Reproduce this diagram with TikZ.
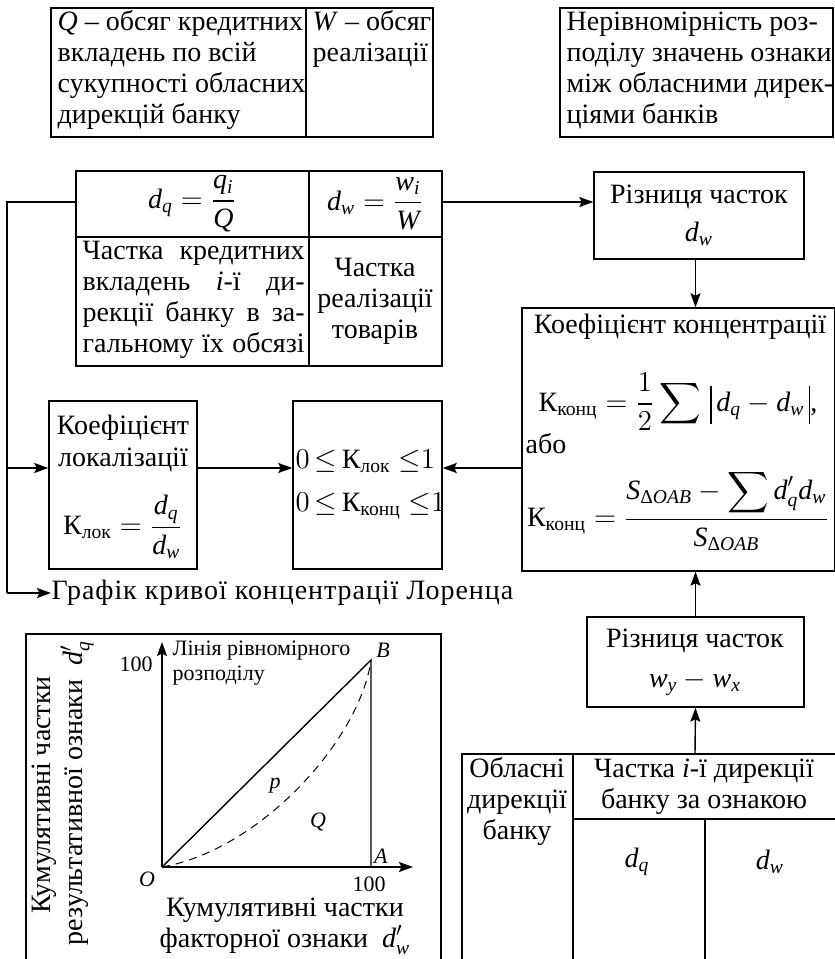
\documentclass[tikz,border=0pt]{standalone}
\usepackage{amsmath}
\usepackage{fontspec}
\setmainfont{Liberation Serif}[NFSSFamily=libser]
\newfontfamily\widefont{Liberation Serif}[LetterSpace=3.4]
\DeclareSymbolFont{letters}{TU}{libser}{m}{it}
\DeclareSymbolFont{operators}{TU}{libser}{m}{n}
\usetikzlibrary{arrows.meta,fit,calc}
\newcommand{\Kx}[1]{\text{К}_{\text{#1}}}
\newcommand{\Dl}{\text{Δ}}
\newcommand{\cm}{\mathpunct{\text{,}}}
\newcommand{\vb}{\rule[-6.5pt]{0.55pt}{19pt}}
\begin{document}
\begin{tikzpicture}[x=0.5pt,y=-0.5pt,
  line width=0.7pt,
  frame/.style={draw, inner sep=0pt},
  txt/.style={inner sep=0pt, font=\fontsize{14}{15.5}\selectfont},
  sm/.style={inner sep=0pt, font=\fontsize{11}{12.5}\selectfont},
  arr/.style={-{Stealth[length=7pt,width=5pt,inset=1.2pt]}},
]
\useasboundingbox (0,0) rectangle (835,959);

% ---------- top boxes
\node[frame, fit={(51,8) (433,137)}] (topL) {};
\draw (306,8) -- (306,137);
\foreach \t [count=\i] in {{\textit{Q} – обсяг кредитних},{вкладень по всій},{сукупності обласних},{дирекцій банку}}
  \node[txt,anchor=base west] (qa\i) at (57,{30+31*(\i-1)}) {\t};
\foreach \t [count=\i] in {{\textit{W} – обсяг},{реалізації}}
  \node[txt,anchor=base west] (wa\i) at (312,{30+31*(\i-1)}) {\t};

\node[frame, fit={(560,8) (833,137)}] (topR) {};
\foreach \t [count=\i] in {{Нерівномірність роз-},{поділу значень ознаки},{між обласними дирек-},{ціями банків}}
  \node[txt,anchor=base west] (nr\i) at (566,{30+31*(\i-1)}) {\t};

% ---------- middle table
\node[frame, fit={(76,171) (442,366)}] (midT) {};
\draw (309,171) -- (309,366);
\draw (76,237) -- (442,237);
\node[txt] (fq) at (192,204) {$d_q=\dfrac{q_i}{Q}$};
\node[txt] (fw) at (375,204) {$d_w=\dfrac{w_i}{W}$};
\foreach \t [count=\i] in {{Частка кредитних},{вкладень \textit{i}-ї ди-},{рекції банку в за-},{гальному їх обсязі}}
  \node[txt,anchor=base west] (ck\i) at (82,{259+31*(\i-1)}) {\makebox[111pt][s]{\t}};
\foreach \t [count=\i] in {{Частка},{реалізації},{товарів}}
  \node[txt,anchor=base] (cr\i) at (375,{276+31*(\i-1)}) {\t};

% ---------- difference d_w
\node[frame, fit={(594,172) (804,259)}] (rizD) {};
\node[txt,anchor=base] (rizDt) at (699,203) {Різниця часток};
\node[txt] (rizDm) at (699,234) {$d_w$};

% ---------- concentration coefficient
\node[frame, fit={(522,308) (835,571)}] (koef) {};
\node[txt,anchor=base] (koeft) at (680,333) {Коефіцієнт концентрації};
\node[txt] (koeff1) at (678,402) {$\Kx{конц}=\dfrac{1}{2}\displaystyle\sum\,\vb\,d_q-d_w\,\vb\cm$};
\node[txt,anchor=base west] (abo) at (525,453) {або};
\node[txt] (koeff2) at (678,510) {$\Kx{конц}=\dfrac{S_{\Dl OAB}-\displaystyle\sum d'_q d_w}{S_{\Dl OAB}}$};

% ---------- localization
\node[frame, fit={(49,401) (197,569)}] (lok) {};
\node[txt,anchor=base] (lok1) at (123,434) {Коефіцієнт};
\node[txt,anchor=base] (lok2) at (123,466) {локалізації};
\node[txt] (lokf) at (123,527) {$\Kx{лок}=\dfrac{d_q}{d_w}$};

% ---------- inequalities
\node[frame, fit={(293,401) (442,569)}] (ineq) {};
\node[txt,anchor=west] (in1) at (295,461) {$0\,{\le}\,\Kx{лок}\;{\le}1$};
\node[txt,anchor=west] (in2) at (295,506) {$0\,{\le}\,\Kx{конц}\;{\le}1$};

% ---------- Lorenz caption
\node[txt,anchor=west] (graf) at (51,593) {\widefont Графік кривої концентрації Лоренца};

% ---------- difference w
\node[frame, fit={(587,617) (804,707)}] (rizW) {};
\node[txt,anchor=base] (rizWt) at (695,647) {Різниця часток};
\node[txt] (rizWm) at (695,683) {$w_y-w_x$};

% ---------- bottom-right table (open)
\coordinate (tabtop) at (695,754);
\draw (462,959) -- (462,754) -- (835,754);
\draw (573,754) -- (573,959);
\draw (573,819) -- (835,819);
\draw (705,819) -- (705,959);
\foreach \t [count=\i] in {{Обласні},{дирекції},{банку}}
  \node[txt,anchor=base] (ob\i) at (517,{777+31*(\i-1)}) {\t};
\node[txt,anchor=base] (ch1) at (704,777) {Частка \textit{i}-ї дирекції};
\node[txt,anchor=base] (ch2) at (704,808) {банку за ознакою};
\node[txt] (tdq) at (637,862) {$d_q$};
\node[txt] (tdw) at (770,862) {$d_w$};

% ---------- connectors
\coordinate (L1) at (7,202);
\coordinate (L2) at (7,593);
\coordinate (L3) at (7,468);
\draw (midT.west |- L1) -- (L1) -- (L2);
\draw[arr] (L2) -- (graf.west);
\draw[arr] (L3) -- (lok.west |- L3);
\draw[arr] (midT.east |- L1) -- (rizD.west |- L1);
\draw[arr] (rizD.south -| rizW.north) -- (rizW.north |- koef.north);
\draw[arr] (lok.east |- L3) -- (ineq.west |- L3);
\draw[arr] (koef.west |- L3) -- (ineq.east |- L3);
\draw[arr] (rizW.north) -- (rizW.north |- koef.south);
\draw[arr] (tabtop) -- (rizW.south);

% ---------- Lorenz chart
\draw (26,959) -- (26,634) -- (441,634) -- (441,959);
\coordinate (O) at (162,867);
\coordinate (B) at (371,660);
\coordinate (A) at (371,867);
\draw[arr] (O) -- (162,642);
\draw[arr] (O) -- (413,867);
\draw (O) -- (B) -- (A);
\draw[line width=0.5pt, dash pattern=on 4pt off 3pt] (O) .. controls (260,850) and (360,740) .. (B);
\node[sm,anchor=base west] (lin1) at (172,655) {Лінія рівномірного};
\node[sm,anchor=base west] (lin2) at (172,680) {розподілу};
\node[sm] (h1) at (136,664) {100};
\node[sm] (h2) at (369,884) {100};
\node[sm] (lB) at (383,650) {\textit{B}};
\node[sm] (lA) at (381,856) {\textit{A}};
\node[sm] (lO) at (147,879) {\textit{O}};
\node[sm] (lp) at (275,786) {\textit{p}};
\node[sm] (lQ) at (318,822) {\textit{Q}};
\node[txt] (cx1) at (285,910) {Кумулятивні частки};
\node[txt] (cx2) at (285,940) {факторної ознаки \ $d'_w$};
\node[txt,rotate=90] (cy1) at (44,795) {Кумулятивні частки};
\node[txt,rotate=90] (cy2) at (77,793) {результативної ознаки \ $d'_q$};
\end{tikzpicture}
\end{document}
